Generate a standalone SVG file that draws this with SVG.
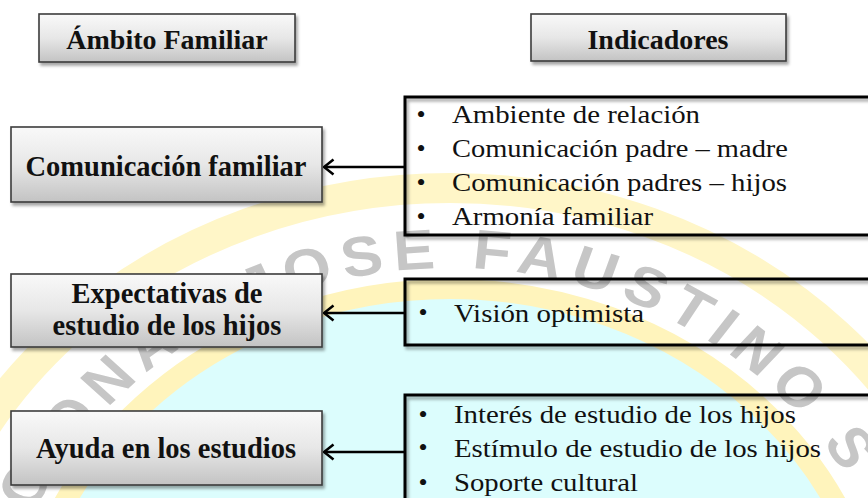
<svg xmlns="http://www.w3.org/2000/svg" width="868" height="498" viewBox="0 0 868 498">
<defs>
  <style>
    .lbl { font-family: "Liberation Serif", "Times New Roman", serif; font-weight: bold; font-size: 28.5px; fill: #111; text-anchor: middle; }
    .hdr { font-family: "Liberation Serif", "Times New Roman", serif; font-weight: bold; font-size: 28px; fill: #111; text-anchor: middle; }
    .item { font-family: "Liberation Serif", "Times New Roman", serif; font-size: 26px; fill: #111; }
    .bul { font-family: "Liberation Serif", "Times New Roman", serif; font-size: 26px; fill: #111; text-anchor: middle; }
    .gbox { fill: url(#gBox); stroke: #3c3c3c; stroke-width: 1.6; filter: url(#shadow); }
    .ibox { fill: none; stroke: #000; stroke-width: 3; filter: url(#shadow); }
    .conn { stroke: #000; stroke-width: 2.6; fill: none; marker-end: url(#arrow); }
    .wm { font-family: "Liberation Sans", Arial, sans-serif; font-weight: bold; font-size: 56px; fill: #c6c6c6; letter-spacing: 8.5px; }
  </style>
  <linearGradient id="gBox" x1="0" y1="0" x2="0" y2="1">
    <stop offset="0" stop-color="#f9f9f9"/>
    <stop offset="0.5" stop-color="#e7e7e7"/>
    <stop offset="1" stop-color="#c3c3c3"/>
  </linearGradient>
  <filter id="shadow" x="-5%" y="-10%" width="115%" height="140%">
    <feDropShadow dx="2" dy="3" stdDeviation="1.5" flood-color="#000" flood-opacity="0.35"/>
  </filter>
  <marker id="arrow" viewBox="0 0 12 18" refX="10.5" refY="9" markerWidth="12" markerHeight="18" markerUnits="userSpaceOnUse" orient="auto">
    <path d="M1,1.5 L10.5,9 L1,16.5" fill="none" stroke="#000" stroke-width="2.6"/>
  </marker>
  <path id="wmArc" d="M35,683 A415,415 0 0 1 865,683"/>
</defs>

<rect x="0" y="0" width="868" height="498" fill="#ffffff"/>

<g id="watermark" transform="matrix(1.1 0 0 1 -45 0)">
  <circle cx="450" cy="683" r="386" fill="#dcfdfd"/>
  <circle cx="450" cy="683" r="394" fill="none" stroke="#fff4bc" stroke-width="20"/>
  <circle cx="450" cy="683" r="495" fill="none" stroke="#fff6c8" stroke-width="30"/>
  <text class="wm"><textPath href="#wmArc" startOffset="175">CIONAL JOSE FAUSTINO S</textPath></text>
</g>

<g id="ind-1">
  <rect class="ibox" x="405" y="97" width="480" height="138"/>
  <text class="bul" x="421" y="123">•</text>
  <text class="bul" x="421" y="157">•</text>
  <text class="bul" x="421" y="191">•</text>
  <text class="bul" x="421" y="225">•</text>
  <text class="item" x="452" y="123" textLength="248" lengthAdjust="spacingAndGlyphs">Ambiente de relación</text>
  <text class="item" x="452" y="157" textLength="336" lengthAdjust="spacingAndGlyphs">Comunicación padre – madre</text>
  <text class="item" x="452" y="191" textLength="335" lengthAdjust="spacingAndGlyphs">Comunicación padres – hijos</text>
  <text class="item" x="452" y="225" textLength="201" lengthAdjust="spacingAndGlyphs">Armonía familiar</text>
</g>

<g id="ind-2">
  <rect class="ibox" x="405" y="279" width="480" height="66"/>
  <text class="bul" x="423" y="321">•</text>
  <text class="item" x="454" y="322" textLength="190" lengthAdjust="spacingAndGlyphs">Visión optimista</text>
</g>

<g id="ind-3">
  <rect class="ibox" x="405" y="395" width="480" height="130"/>
  <text class="bul" x="423" y="423">•</text>
  <text class="bul" x="423" y="456">•</text>
  <text class="bul" x="423" y="491">•</text>
  <text class="item" x="454" y="423" textLength="342" lengthAdjust="spacingAndGlyphs">Interés de estudio de los hijos</text>
  <text class="item" x="454" y="457" textLength="367" lengthAdjust="spacingAndGlyphs">Estímulo de estudio de los hijos</text>
  <text class="item" x="454" y="491" textLength="184" lengthAdjust="spacingAndGlyphs">Soporte cultural</text>
</g>

<g id="connectors">
  <line class="conn" x1="405" y1="167" x2="324" y2="167"/>
  <line class="conn" x1="405" y1="313" x2="324" y2="313"/>
  <line class="conn" x1="405" y1="452" x2="324" y2="452"/>
</g>

<g id="hdr-ambito">
  <rect class="gbox" x="39" y="14" width="256" height="48"/>
  <text class="hdr" x="167" y="49">Ámbito Familiar</text>
</g>

<g id="hdr-indicadores">
  <rect class="gbox" x="531" y="14" width="255" height="47"/>
  <text class="hdr" x="658" y="49">Indicadores</text>
</g>

<g id="n-comunicacion">
  <rect class="gbox" x="11" y="127" width="311" height="75"/>
  <text class="lbl" x="166" y="176">Comunicación familiar</text>
</g>

<g id="n-expectativas">
  <rect class="gbox" x="11" y="274" width="311" height="73"/>
  <text class="lbl" x="167" y="303">Expectativas de</text>
  <text class="lbl" x="167" y="335">estudio de los hijos</text>
</g>

<g id="n-ayuda">
  <rect class="gbox" x="11" y="411" width="311" height="74"/>
  <text class="lbl" x="166" y="458">Ayuda en los estudios</text>
</g>
</svg>
